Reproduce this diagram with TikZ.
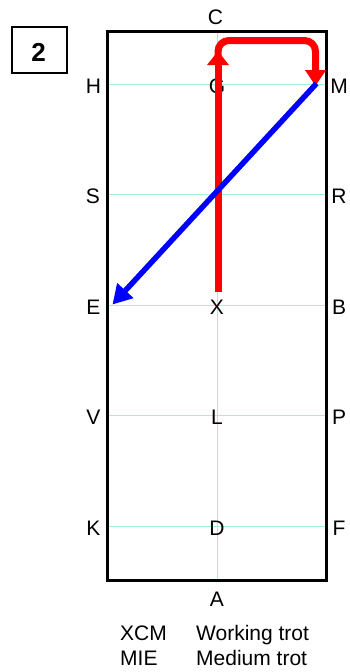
\documentclass[tikz,border=0pt]{standalone}
\usepackage{fontspec}
\setmainfont{Liberation Sans}
\usetikzlibrary{arrows.meta}
\definecolor{gridc}{HTML}{A0F2D2}
\tikzset{
  lbl/.style={inner sep=0pt, anchor=center, font=\fontsize{21}{25}\selectfont},
  legend/.style={inner sep=0pt, anchor=base west, font=\fontsize{21}{25}\selectfont},
  gridline/.style={draw=gridc, line width=1pt},
  arena/.style={draw=black, line width=3pt},
  redpath/.style={draw=red, line width=7pt},
  bluepath/.style={draw=blue, line width=5.5pt},
}
\begin{document}
\begin{tikzpicture}[x=1pt,y=-1pt]
\useasboundingbox (0,0) rectangle (349,672);
% arena corners
\coordinate (tl) at (107,31.5);
\coordinate (br) at (326.5,580.5);
% grid lines
\foreach \yy/\nm in {84/h,194/s,305/e,415/v,526/k}{
  \coordinate (\nm L) at (107,\yy);
  \coordinate (\nm R) at (326.5,\yy);
  \draw[gridline] (\nm L) -- (\nm R);
}
\coordinate (cT) at (217.5,31.5);
\coordinate (cB) at (217.5,580.5);
\draw[gridline] (cT) -- (cB);
\draw[arena] (tl) rectangle (br);
% letters
\node[lbl] (C) at (215.5,17.5) {C};
\node[lbl] (A) at (217,599) {A};
\node[lbl] (H) at (93.5,86.5) {H};
\node[lbl] (G) at (217,86.5) {G};
\node[lbl] (M) at (339,86.5) {M};
\node[lbl] (S) at (93,196.5) {S};
\node[lbl] (R) at (339,196.5) {R};
\node[lbl] (E) at (93.5,307.5) {E};
\node[lbl] (X) at (217,307.5) {X};
\node[lbl] (B) at (339,307.5) {B};
\node[lbl] (V) at (93.5,417.5) {V};
\node[lbl] (L) at (217,417.5) {L};
\node[lbl] (P) at (339,417.5) {P};
\node[lbl] (K) at (93.5,528.5) {K};
\node[lbl] (D) at (217,528.5) {D};
\node[lbl] (F) at (339,528.5) {F};
% number box
\node[draw=black, line width=2pt, minimum width=54.7pt, minimum height=45.4pt, inner sep=0pt] (numbox) at (39.3,50) {};
\node[inner sep=0pt, font=\fontsize{26}{30}\selectfont\bfseries] (num) at (38.7,52) {2};
% legend
\node[legend] (l1a) at (120,640) {XCM};
\node[legend] (l1b) at (196,640) {Working trot};
\node[legend] (l2a) at (120,665) {MIE};
\node[legend] (l2b) at (196,665) {Medium trot};
% red path
\coordinate (r0) at (218,292);
\coordinate (r1) at (218,51);
\coordinate (r2) at (218,64);
\coordinate (r3) at (218,40.5);
\coordinate (r4) at (315.5,40.5);
\coordinate (r5) at (315.5,86);
\draw[redpath, rounded corners=11pt, -{Triangle[width=20pt,length=16pt]}] (r2) -- (r3) -- (r4) -- (r5);
\draw[redpath, -{Triangle[width=21pt,length=14pt]}] (r0) -- (r1);
% blue path
\coordinate (b0) at (316.5,83.5);
\coordinate (b1) at (112.5,304.5);
\draw[bluepath, -{Triangle[width=21pt,length=19pt]}] (b0) -- (b1);
\end{tikzpicture}
\end{document}
